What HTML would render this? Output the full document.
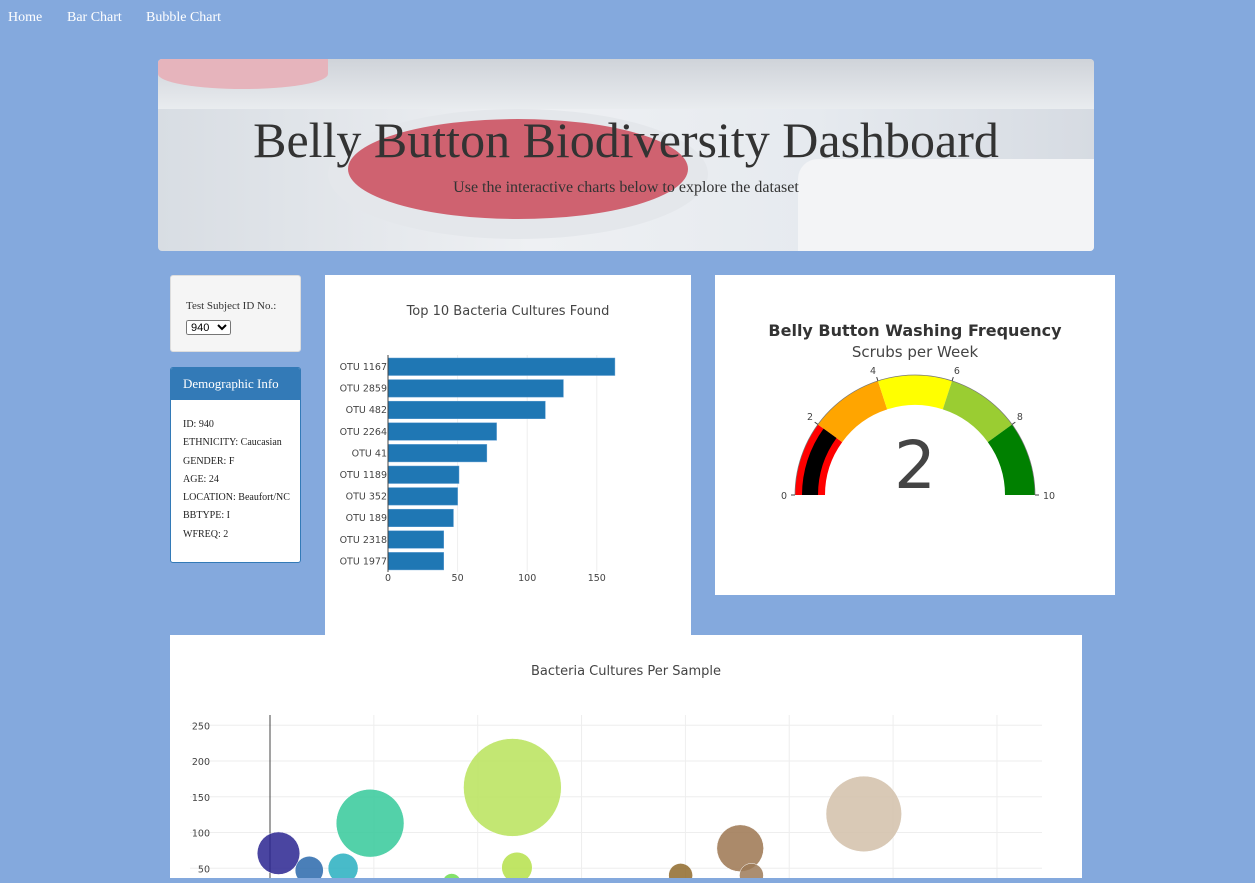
<!DOCTYPE html>
<html><head><meta charset="utf-8">
<style>
body{margin:0;width:1255px;height:878px;overflow:hidden;background:#84a9dd;font-family:"Liberation Serif",serif;position:relative}
.abs{position:absolute}
.nav a{position:absolute;top:10px;color:#fff;font-size:14px;text-decoration:none}
.panel{position:absolute;background:#fff}
</style></head><body>
<div class="nav">
<a style="left:8px">Home</a>
<a style="left:67px">Bar Chart</a>
<a style="left:146px">Bubble Chart</a>
</div>
<div class="abs" style="left:158px;top:59px;width:936px;height:192px;border-radius:4px;overflow:hidden;background:linear-gradient(90deg,#d8dde3 0%,#eef0f3 40%,#e6eaef 70%,#d6dbe2 100%)">
<div class="abs" style="left:0;top:0;width:936px;height:50px;background:linear-gradient(180deg,#cfd3d9,#e9ecef)"></div>
<div class="abs" style="left:0;top:0;width:170px;height:30px;background:#e6b4bc;border-radius:0 0 50% 50%"></div>
<div class="abs" style="left:170px;top:50px;width:380px;height:130px;border-radius:50%;background:#e4e7eb"></div>
<div class="abs" style="left:190px;top:60px;width:340px;height:100px;border-radius:50%;background:#cf6270"></div>
<div class="abs" style="left:640px;top:100px;width:296px;height:92px;background:#f3f4f6;border-radius:20px 0 0 0"></div>
<div class="abs" style="left:0;width:936px;top:52px;text-align:center;font-size:50px;color:#333">Belly Button Biodiversity Dashboard</div>
<div class="abs" style="left:0;width:936px;top:120px;text-align:center;font-size:16px;color:#333">Use the interactive charts below to explore the dataset</div>
</div>
<div class="abs" style="left:170px;top:275px;width:129px;height:75px;background:#f5f5f5;border:1px solid #ddd;border-radius:3px">
<div class="abs" style="left:15px;top:24px;font-size:11px;color:#333">Test Subject ID No.:</div>
<select class="abs" style="left:15px;top:44px;font-size:11px;width:45px;height:15px;padding:0"><option>940</option></select>
</div>
<div class="abs" style="left:170px;top:367px;width:129px;height:194px;background:#fff;border:1px solid #337ab7;border-radius:3px;overflow:hidden">
<div style="background:#337ab7;color:#fff;font-size:13px;height:32px;line-height:32px;padding-left:12px">Demographic Info</div>
<div style="padding:16px 0 0 12px;font-size:10px;line-height:18.3px;color:#222">ID: 940<br>ETHNICITY: Caucasian<br>GENDER: F<br>AGE: 24<br>LOCATION: Beaufort/NC<br>BBTYPE: I<br>WFREQ: 2</div>
</div>
<div class="panel" style="left:325px;top:275px;width:366px;height:360px">
<svg id="bar" width="366" height="360" style="font-family:'DejaVu Sans','Liberation Sans',sans-serif"></svg></div>
<div class="panel" style="left:715px;top:275px;width:400px;height:320px">
<svg id="gauge" width="400" height="320" style="font-family:'DejaVu Sans','Liberation Sans',sans-serif"></svg></div>
<div class="panel" style="left:170px;top:635px;width:912px;height:243px">
<svg id="bubble" width="912" height="243" style="font-family:'DejaVu Sans','Liberation Sans',sans-serif"></svg></div>
<script>
const otuIds=[1167,2859,482,2264,41,1189,352,189,2318,1977];
const sampleValues=[163,126,113,78,71,51,50,47,40,40];
const barTicks=[0,50,100,150];
const bubbleColors=["#b9e35a","#d2bfa9","#35c99a","#9c7650","#2a2590","#b5e04a","#28afbf","#2a68ac","#9c7a58","#8f6a2c"];
const extraIds=[875,1960,2196];
const extraValues=[30,25,15];
const extraColors=["#6fdc50","#8f6a2c","#9c7650"];
const bubbleYTicks=[50,100,150,200,250];
const gaugeValue=2;
const gaugeSteps=[[0,2,"red"],[2,4,"orange"],[4,6,"yellow"],[6,8,"yellowgreen"],[8,10,"green"]];
const gaugeTicks=[0,2,4,6,8,10];
const NS="http://www.w3.org/2000/svg";
function mk(p,t,a,txt){const e=document.createElementNS(NS,t);for(const k in a)e.setAttribute(k,a[k]);if(txt!==undefined)e.textContent=txt;p.appendChild(e);return e;}
// bar chart
const bs=document.getElementById('bar');
const t1=mk(bs,'text',{x:183,y:40,'text-anchor':'middle','font-size':13,fill:'#444'},'Top 10 Bacteria Cultures Found');


const bx=v=>63+v*1.392, rowY=i=>82+i*21.6;
barTicks.forEach(v=>{if(v>0)mk(bs,'line',{x1:bx(v),x2:bx(v),y1:80,y2:297,stroke:'#eee'});
const t=mk(bs,'text',{x:bx(v),y:306,'text-anchor':'middle','font-size':9.5,fill:'#444'},v);

});
otuIds.forEach((id,i)=>{const r=mk(bs,'rect',{x:bx(0),y:rowY(i)+1,width:bx(sampleValues[i])-bx(0),height:17.5,fill:'#1f77b4',stroke:'#5a9bd0','stroke-width':0.5});


const t=mk(bs,'text',{x:62,y:rowY(i)+13,'text-anchor':'end','font-size':9.5,fill:'#444'},'OTU '+id);

});
mk(bs,'line',{x1:63,x2:63,y1:80,y2:297,stroke:'#444'});
// gauge
const gs=document.getElementById('gauge');
const cx=200,cy=220;
const gt=mk(gs,'text',{x:cx,y:61,'text-anchor':'middle','font-size':16,'font-weight':'bold',fill:'#333'},'Belly Button Washing Frequency');


const gst=mk(gs,'text',{x:cx,y:82,'text-anchor':'middle','font-size':15,fill:'#444'},'Scrubs per Week');


const ang=v=>Math.PI*(1-v/10);
function arc(v0,v1,r0,r1){const a0=ang(v0),a1=ang(v1);const P=(r,a)=>(cx+r*Math.cos(a)).toFixed(2)+' '+(cy-r*Math.sin(a)).toFixed(2);
return 'M'+P(r1,a0)+' A'+r1+' '+r1+' 0 0 1 '+P(r1,a1)+' L'+P(r0,a1)+' A'+r0+' '+r0+' 0 0 0 '+P(r0,a0)+'Z';}
gaugeSteps.forEach(s=>{const p=mk(gs,'path',{d:arc(s[0],s[1],90,120),fill:s[2]});

});
const gb=mk(gs,'path',{d:arc(0,gaugeValue,97,113),fill:'#000'});


mk(gs,'path',{d:'M'+(cx-120)+' '+cy+' A120 120 0 0 1 '+(cx+120)+' '+cy,fill:'none',stroke:'#777','stroke-width':0.7});
gaugeTicks.forEach(v=>{const a=ang(v);const x=cx+126*Math.cos(a),y=cy-126*Math.sin(a);
mk(gs,'line',{x1:cx+120*Math.cos(a),y1:cy-120*Math.sin(a),x2:cx+124*Math.cos(a),y2:cy-124*Math.sin(a),stroke:'#444'});
const anc=v<5?'end':(v>5?'start':'middle');
const t=mk(gs,'text',{x:x+(v==0?-2:v==10?2:0),y:y+(v==0||v==10?4:-1),'text-anchor':anc,'font-size':9.5,fill:'#444'},v);

});
const gv=mk(gs,'text',{x:cx,y:cy-7,'text-anchor':'middle','font-size':66,fill:'#444'},gaugeValue);


// bubble
const us=document.getElementById('bubble');
const ut=mk(us,'text',{x:456,y:40,'text-anchor':'middle','font-size':13,fill:'#444'},'Bacteria Cultures Per Sample');


const ux=v=>100+v*0.2077, uy=v=>269-v*0.715;
[500,1000,1500,2000,2500,3000,3500].forEach(v=>mk(us,'line',{x1:ux(v),x2:ux(v),y1:80,y2:243,stroke:'#eee'}));
bubbleYTicks.forEach(v=>{mk(us,'line',{x1:20,x2:872,y1:uy(v),y2:uy(v),stroke:'#eee'});
const t=mk(us,'text',{x:40,y:uy(v)+4,'text-anchor':'end','font-size':9.5,fill:'#444'},v);

});
mk(us,'line',{x1:100,x2:100,y1:80,y2:243,stroke:'#444'});
extraIds.forEach((id,i)=>{const c=mk(us,'circle',{cx:ux(id),cy:uy(extraValues[i]),r:extraValues[i]*0.3,fill:extraColors[i],'fill-opacity':0.85,stroke:'#fff','stroke-width':0.5});

});
otuIds.forEach((id,i)=>{const c=mk(us,'circle',{cx:ux(id),cy:uy(sampleValues[i]),r:sampleValues[i]*0.3,fill:bubbleColors[i],'fill-opacity':0.85,stroke:'#fff','stroke-width':0.5});

});
</script>
</body></html>
